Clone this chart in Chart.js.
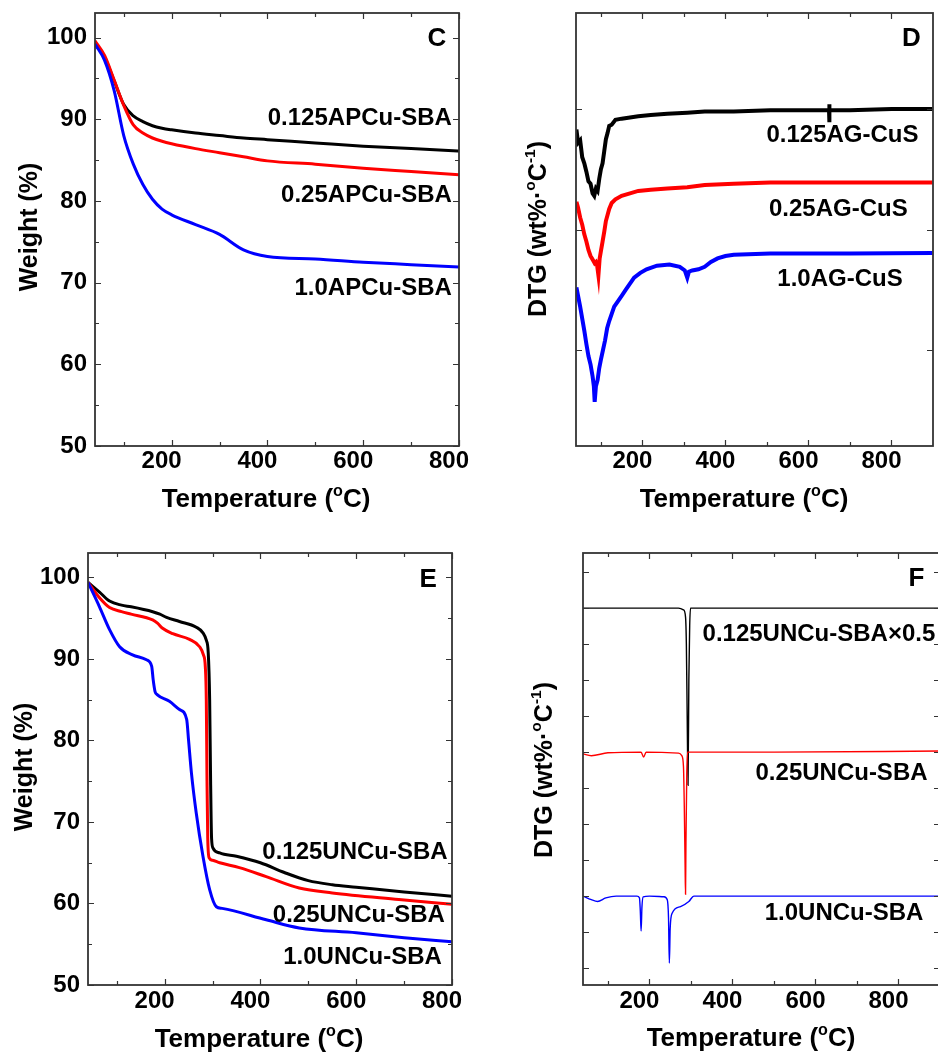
<!DOCTYPE html>
<html>
<head>
<meta charset="utf-8">
<title>TGA / DTG</title>
<script src="https://cdn.jsdelivr.net/npm/chart.js@4.4.1/dist/chart.umd.min.js"></script>
<style>
  html, body { margin: 0; padding: 0; background: #fff; overflow: hidden; }
  body { width: 938px; height: 1061px; position: relative; }
  canvas { position: absolute; }
</style>
</head>
<body>
<canvas id="panelC" width="470" height="530" style="left:0px;top:0px"></canvas>
<canvas id="panelD" width="468" height="530" style="left:470px;top:0px"></canvas>
<canvas id="panelE" width="470" height="531" style="left:0px;top:530px"></canvas>
<canvas id="panelF" width="500" height="531" style="left:470px;top:530px"></canvas>
<script>
"use strict";

// ---- C: TGA dei campioni APCu-SBA ----
const tempAP = [40, 60, 80, 100, 120, 140, 160, 180, 200, 250, 300, 350, 400, 500, 600, 700, 800];
const pesoAP0125 = [99.4, 97.6, 94.7, 91.8, 90.4, 89.7, 89.2, 88.9, 88.7, 88.3, 88.0, 87.7, 87.5, 87.1, 86.7, 86.4, 86.1];
const pesoAP025 = [99.6, 97.8, 94.8, 91.7, 89.3, 88.3, 87.7, 87.3, 87.0, 86.4, 85.9, 85.4, 84.9, 84.5, 84.0, 83.6, 83.2];
const pesoAP10 = [99.2, 97.2, 93.5, 88.0, 84.5, 82.0, 80.2, 79.0, 78.3, 77.1, 75.9, 74.0, 73.2, 72.9, 72.5, 72.2, 71.9];

// ---- D: DTG dei campioni AG-CuS (unita' arbitrarie, linea di base 0.125 = 0) ----
const tempAG0125 = [41, 45, 50, 55, 60, 65, 70, 75, 80, 84, 88, 92, 96, 100, 104, 108, 112, 116, 120, 126, 135, 150, 170, 190, 220, 260, 308, 350, 420, 508, 600, 649.5, 650, 650.4, 650.9, 700, 800, 899];
const dtgAG0125 = [-0.17, -0.28, -0.26, -0.40, -0.45, -0.52, -0.60, -0.62, -0.70, -0.72, -0.66, -0.68, -0.58, -0.50, -0.45, -0.35, -0.25, -0.20, -0.14, -0.13, -0.09, -0.08, -0.07, -0.06, -0.05, -0.04, -0.03, -0.02, -0.02, -0.01, -0.01, -0.01, 0.04, -0.11, -0.01, -0.01, 0.0, 0.0];
const tempAG025 = [41, 45, 50, 55, 60, 65, 70, 75, 80, 85, 88, 91, 94, 97, 100, 104, 108, 112, 116, 120, 126, 135, 150, 170, 190, 220, 260, 308, 350, 420, 508, 700, 899];
const dtgAG025 = [-0.77, -0.82, -0.90, -0.96, -1.04, -1.10, -1.17, -1.22, -1.25, -1.28, -1.27, -1.30, -1.38, -1.24, -1.18, -1.10, -1.02, -0.93, -0.88, -0.83, -0.78, -0.75, -0.72, -0.70, -0.68, -0.67, -0.66, -0.65, -0.63, -0.62, -0.61, -0.61, -0.61];
const tempAG10 = [41, 45, 50, 55, 60, 65, 70, 75, 80, 83, 85, 88, 92, 96, 100, 105, 110, 115, 120, 126, 132, 140, 150, 160, 170, 180, 195, 210, 235, 265, 290, 302, 308, 312, 320, 335, 350, 365, 381, 400, 420, 508, 700, 899];
const dtgAG10 = [-1.48, -1.55, -1.64, -1.74, -1.84, -1.95, -2.05, -2.12, -2.22, -2.30, -2.43, -2.30, -2.25, -2.15, -2.08, -2.00, -1.92, -1.82, -1.76, -1.70, -1.64, -1.60, -1.55, -1.50, -1.45, -1.40, -1.36, -1.33, -1.30, -1.29, -1.31, -1.34, -1.40, -1.35, -1.34, -1.33, -1.31, -1.27, -1.24, -1.22, -1.21, -1.20, -1.20, -1.195];

// ---- E: TGA dei campioni UNCu-SBA ----
const tempUN0125 = [40, 64, 85, 110, 130, 175, 190, 204, 231, 266, 280, 287, 291, 294, 296, 298, 301, 315, 350, 400, 450, 500, 550, 600, 700, 800];
const pesoUN0125 = [99.4, 98.2, 97.1, 96.6, 96.4, 95.8, 95.5, 95.1, 94.6, 93.9, 93.2, 92.3, 90.8, 85.0, 75.0, 68.0, 66.8, 66.2, 65.8, 65.0, 63.8, 62.8, 62.3, 62.0, 61.4, 60.9];
const tempUN025 = [40, 64, 85, 110, 130, 175, 185, 195, 217, 252, 273, 281, 285, 287, 288.5, 290, 293, 300, 315, 356, 412, 481, 550, 689, 800];
const pesoUN025 = [99.4, 97.5, 96.3, 95.8, 95.5, 94.8, 94.4, 93.8, 93.1, 92.4, 91.5, 90.5, 89.0, 85.0, 75.0, 68.0, 65.6, 65.3, 65.0, 64.4, 63.3, 61.9, 61.3, 60.5, 59.9];
const tempUN10 = [40, 64, 85, 106, 133, 162, 173, 176, 180, 185, 210, 231, 246, 250, 256, 266, 280, 294, 308, 320, 412, 481, 600, 700, 800];
const pesoUN10 = [99.4, 96.4, 93.6, 91.5, 90.5, 89.9, 89.1, 87.5, 86.0, 85.6, 84.8, 83.8, 82.6, 80.0, 76.0, 71.1, 65.8, 61.7, 59.6, 59.4, 58.0, 57.0, 56.4, 55.8, 55.3];

// ---- F: DTG dei campioni UNCu-SBA (unita' arbitrarie) ----
const tempDTG0125 = [40, 100, 200, 270, 282, 287, 289, 291, 293, 295, 297, 299, 320, 500, 700, 900];
const dtgUN0125 = [0.0, 0.0, 0.0, 0.0, -0.05, -0.25, -1.0, -3.0, -4.92, -2.0, -0.5, 0.0, 0.0, 0.0, 0.0, 0.0];
const tempDTG025 = [40, 60, 100, 180, 186, 192, 270, 278, 282, 284, 286, 287, 288, 290, 292, 300, 500, 900];
const dtgUN025 = [-4.05, -4.1, -4.02, -4.0, -4.14, -4.0, -4.03, -4.1, -4.4, -5.5, -7.2, -7.95, -6.5, -4.6, -4.0, -4.0, -4.0, -3.97];
const tempDTG10 = [40, 60, 75, 95, 120, 170, 176, 178, 180, 182, 185, 200, 235, 243, 246, 248, 250, 255, 275, 295, 307, 320, 500, 900];
const dtgUN10 = [-8.0, -8.1, -8.15, -8.05, -8.0, -8.0, -8.05, -8.4, -8.97, -8.3, -8.02, -8.0, -8.02, -8.1, -8.6, -9.86, -8.9, -8.47, -8.29, -8.15, -8.0, -8.0, -8.0, -8.0];

// etichette delle serie
const nomiAP = ["0.125APCu-SBA", "0.25APCu-SBA", "1.0APCu-SBA"];
const nomiAG = ["0.125AG-CuS", "0.25AG-CuS", "1.0AG-CuS"];
const nomiUN = ["0.125UNCu-SBA", "0.25UNCu-SBA", "1.0UNCu-SBA"];
const nomiUNdtg = ["0.125UNCu-SBA\u00d70.5", "0.25UNCu-SBA", "1.0UNCu-SBA"];

// tacche degli assi
const tacchePeso = [50, 60, 70, 80, 90, 100];
const taccheTemp = [200, 400, 600, 800];

const NERO = "#000000", ROSSO = "#ff0000", BLU = "#0000ff";
const FONT = '"Liberation Sans", Arial, Helvetica, sans-serif';

const titoloTemp = [{ t: "Temperature (" }, { t: "o", sup: true }, { t: "C)" }];
const titoloPeso = [{ t: "Weight (%)" }];
const titoloDTG = [{ t: "DTG (wt%\u00b7" }, { t: "o", sup: true }, { t: "C" }, { t: "-1", sup: true }, { t: ")" }];

function serie(x, y, colore) {
    return { x: x, y: y, colore: colore };
}

function passi(da, a, passo) {
    const out = [];
    for (let v = da; v <= a + 1e-9; v += passo) out.push(+v.toFixed(3));
    return out;
}

// testo con apici (titoli degli assi)
function scriviRicco(ctx, parti, cx, cy, size, angolo) {
    ctx.save();
    ctx.translate(cx, cy);
    ctx.rotate(angolo);
    ctx.fillStyle = "#000";
    ctx.textAlign = "left";
    ctx.textBaseline = "alphabetic";
    let w = 0;
    parti.forEach(p => {
        ctx.font = "bold " + (p.sup ? size * 0.62 : size) + "px " + FONT;
        w += ctx.measureText(p.t).width;
    });
    let x = -w / 2;
    const base = size * 0.36;
    parti.forEach(p => {
        ctx.font = "bold " + (p.sup ? size * 0.62 : size) + "px " + FONT;
        ctx.fillText(p.t, x, base - (p.sup ? size * 0.43 : 0));
        x += ctx.measureText(p.t).width;
    });
    ctx.restore();
}

function creaCornice(cfg) {
    return {
        id: "cornice",
        afterDraw(chart) {
            const ctx = chart.ctx;
            const a = chart.chartArea;
            const xs = chart.scales.x, ys = chart.scales.y;
            ctx.save();
            ctx.strokeStyle = "#333";
            ctx.lineWidth = 1.2;
            ctx.beginPath();
            const tacX = (v, len) => {
                const p = Math.round(xs.getPixelForValue(v)) + 0.5;
                ctx.moveTo(p, a.bottom); ctx.lineTo(p, a.bottom - len);
                ctx.moveTo(p, a.top); ctx.lineTo(p, a.top + len);
            };
            const tacY = (v, len) => {
                const p = Math.round(ys.getPixelForValue(v)) + 0.5;
                ctx.moveTo(a.left, p); ctx.lineTo(a.left + len, p);
                ctx.moveTo(a.right, p); ctx.lineTo(a.right - len, p);
            };
            cfg.xMajor.forEach(v => tacX(v, 6));
            cfg.xMinor.forEach(v => tacX(v, 4));
            cfg.yMajor.forEach(v => tacY(v, 6));
            cfg.yMinor.forEach(v => tacY(v, 4));
            ctx.stroke();
            ctx.lineWidth = 1.8;
            ctx.strokeRect(a.left, a.top, a.right - a.left, a.bottom - a.top);

            // lettera del pannello
            ctx.fillStyle = "#000";
            ctx.font = "bold 26px " + FONT;
            ctx.textAlign = "center";
            ctx.textBaseline = "middle";
            ctx.fillText(cfg.lettera.t, xs.getPixelForValue(cfg.lettera.x), ys.getPixelForValue(cfg.lettera.y));

            // nomi delle serie
            ctx.font = "bold 24px " + FONT;
            cfg.nomi.forEach(n => {
                ctx.textAlign = n.align || "right";
                ctx.fillText(n.t, xs.getPixelForValue(n.x), ys.getPixelForValue(n.y));
            });

            scriviRicco(ctx, titoloTemp, cfg.titoloX[0], cfg.titoloX[1], 26, 0);
            scriviRicco(ctx, cfg.titoloY, cfg.posY[0], cfg.posY[1], cfg.sizeY, -Math.PI / 2);
            ctx.restore();
        }
    };
}

function creaPannello(id, cfg) {
    const canvas = document.getElementById(id);
    const W = canvas.width, H = canvas.height;
    const a = cfg.area;
    const fontTacche = { family: FONT, size: 24, weight: "bold" };
    return new Chart(canvas, {
        type: "line",
        data: {
            datasets: cfg.serie.map(s => ({
                data: s.x.map((x, i) => ({ x: x, y: s.y[i] })),
                borderColor: s.colore,
                borderWidth: cfg.spessore,
                pointRadius: 0,
                fill: false,
                tension: cfg.tensione,
                cubicInterpolationMode: cfg.monotona ? "monotone" : "default"
            })).reverse()
        },
        options: {
            responsive: false,
            animation: false,
            events: [],
            layout: { padding: { left: 0, top: a.top, right: W - a.right, bottom: 0 } },
            plugins: { legend: { display: false }, tooltip: { enabled: false } },
            scales: {
                x: {
                    type: "linear",
                    min: cfg.xMin, max: cfg.xMax,
                    afterFit: s => { s.height = H - a.bottom; s.paddingLeft = 0; s.paddingRight = 0; },
                    afterBuildTicks: s => { s.ticks = taccheTemp.map(v => ({ value: v })); },
                    grid: { display: false, drawTicks: false },
                    border: { display: false },
                    ticks: { font: fontTacche, color: "#000", padding: cfg.padX, labelOffset: -10, maxRotation: 0, autoSkip: false }
                },
                y: {
                    type: "linear",
                    min: cfg.yMin, max: cfg.yMax,
                    afterFit: s => { s.width = a.left; s.paddingTop = 0; s.paddingBottom = 0; },
                    afterBuildTicks: s => { s.ticks = cfg.yLabels.map(v => ({ value: v })); },
                    grid: { display: false, drawTicks: false },
                    border: { display: false },
                    ticks: { display: cfg.yLabels.length > 0, font: fontTacche, color: "#000", padding: 8 }
                }
            }
        },
        plugins: [creaCornice(cfg)]
    });
}

creaPannello("panelC", {
    area: { left: 95, right: 459, top: 13, bottom: 446 },
    xMin: 40, xMax: 800, yMin: 50, yMax: 103,
    yLabels: tacchePeso, padX: 1,
    xMajor: taccheTemp, xMinor: [100, 300, 500, 700],
    yMajor: tacchePeso, yMinor: [55, 65, 75, 85, 95],
    spessore: 3, tensione: 0.4, monotona: true,
    serie: [serie(tempAP, pesoAP0125, NERO), serie(tempAP, pesoAP025, ROSSO), serie(tempAP, pesoAP10, BLU)],
    lettera: { t: "C", x: 754, y: 99.8 },
    nomi: [{ t: nomiAP[0], x: 785, y: 90.1 }, { t: nomiAP[1], x: 785, y: 80.7 }, { t: nomiAP[2], x: 785, y: 69.3 }],
    titoloX: [266, 498], titoloY: titoloPeso, posY: [28, 227], sizeY: 25
});

creaPannello("panelD", {
    area: { left: 106, right: 463, top: 13, bottom: 446 },
    xMin: 40, xMax: 900, yMin: -2.797, yMax: 0.797,
    yLabels: [], padX: 1,
    xMajor: taccheTemp, xMinor: [100, 300, 500, 700],
    yMajor: [0, -1, -2], yMinor: [],
    spessore: 4, tensione: 0, monotona: false,
    serie: [serie(tempAG0125, dtgAG0125, NERO), serie(tempAG025, dtgAG025, ROSSO), serie(tempAG10, dtgAG10, BLU)],
    lettera: { t: "D", x: 848, y: 0.58 },
    nomi: [{ t: nomiAG[0], x: 865, y: -0.22 }, { t: nomiAG[1], x: 839, y: -0.83 }, { t: nomiAG[2], x: 827, y: -1.41 }],
    titoloX: [274, 498], titoloY: titoloDTG, posY: [67, 229], sizeY: 25
});

creaPannello("panelE", {
    area: { left: 88, right: 452, top: 23, bottom: 455 },
    xMin: 40, xMax: 800, yMin: 50, yMax: 103,
    yLabels: tacchePeso, padX: 2,
    xMajor: taccheTemp, xMinor: [100, 300, 500, 700],
    yMajor: tacchePeso, yMinor: [55, 65, 75, 85, 95],
    spessore: 3, tensione: 0.4, monotona: true,
    serie: [serie(tempUN0125, pesoUN0125, NERO), serie(tempUN025, pesoUN025, ROSSO), serie(tempUN10, pesoUN10, BLU)],
    lettera: { t: "E", x: 750, y: 99.75 },
    nomi: [{ t: nomiUN[0], x: 791, y: 66.3 }, { t: nomiUN[1], x: 785, y: 58.6 }, { t: nomiUN[2], x: 779, y: 53.4 }],
    titoloX: [259, 508], titoloY: titoloPeso, posY: [23, 237], sizeY: 25
});

creaPannello("panelF", {
    area: { left: 113, right: 470, top: 23, bottom: 455 },
    xMin: 40, xMax: 900, yMin: -10.47, yMax: 1.53,
    yLabels: [], padX: 2,
    xMajor: taccheTemp, xMinor: [100, 300, 500, 700],
    yMajor: passi(-10, 1, 1), yMinor: [],
    spessore: 1.4, tensione: 0.3, monotona: true,
    serie: [serie(tempDTG0125, dtgUN0125, NERO), serie(tempDTG025, dtgUN025, ROSSO), serie(tempDTG10, dtgUN10, BLU)],
    lettera: { t: "F", x: 843, y: 0.8 },
    nomi: [{ t: nomiUNdtg[0], x: 328, y: -0.72, align: "left" }, { t: nomiUNdtg[1], x: 870, y: -4.58 }, { t: nomiUNdtg[2], x: 860, y: -8.47 }],
    titoloX: [281, 507], titoloY: titoloDTG, posY: [73, 240], sizeY: 25
});
</script>
</body>
</html>
